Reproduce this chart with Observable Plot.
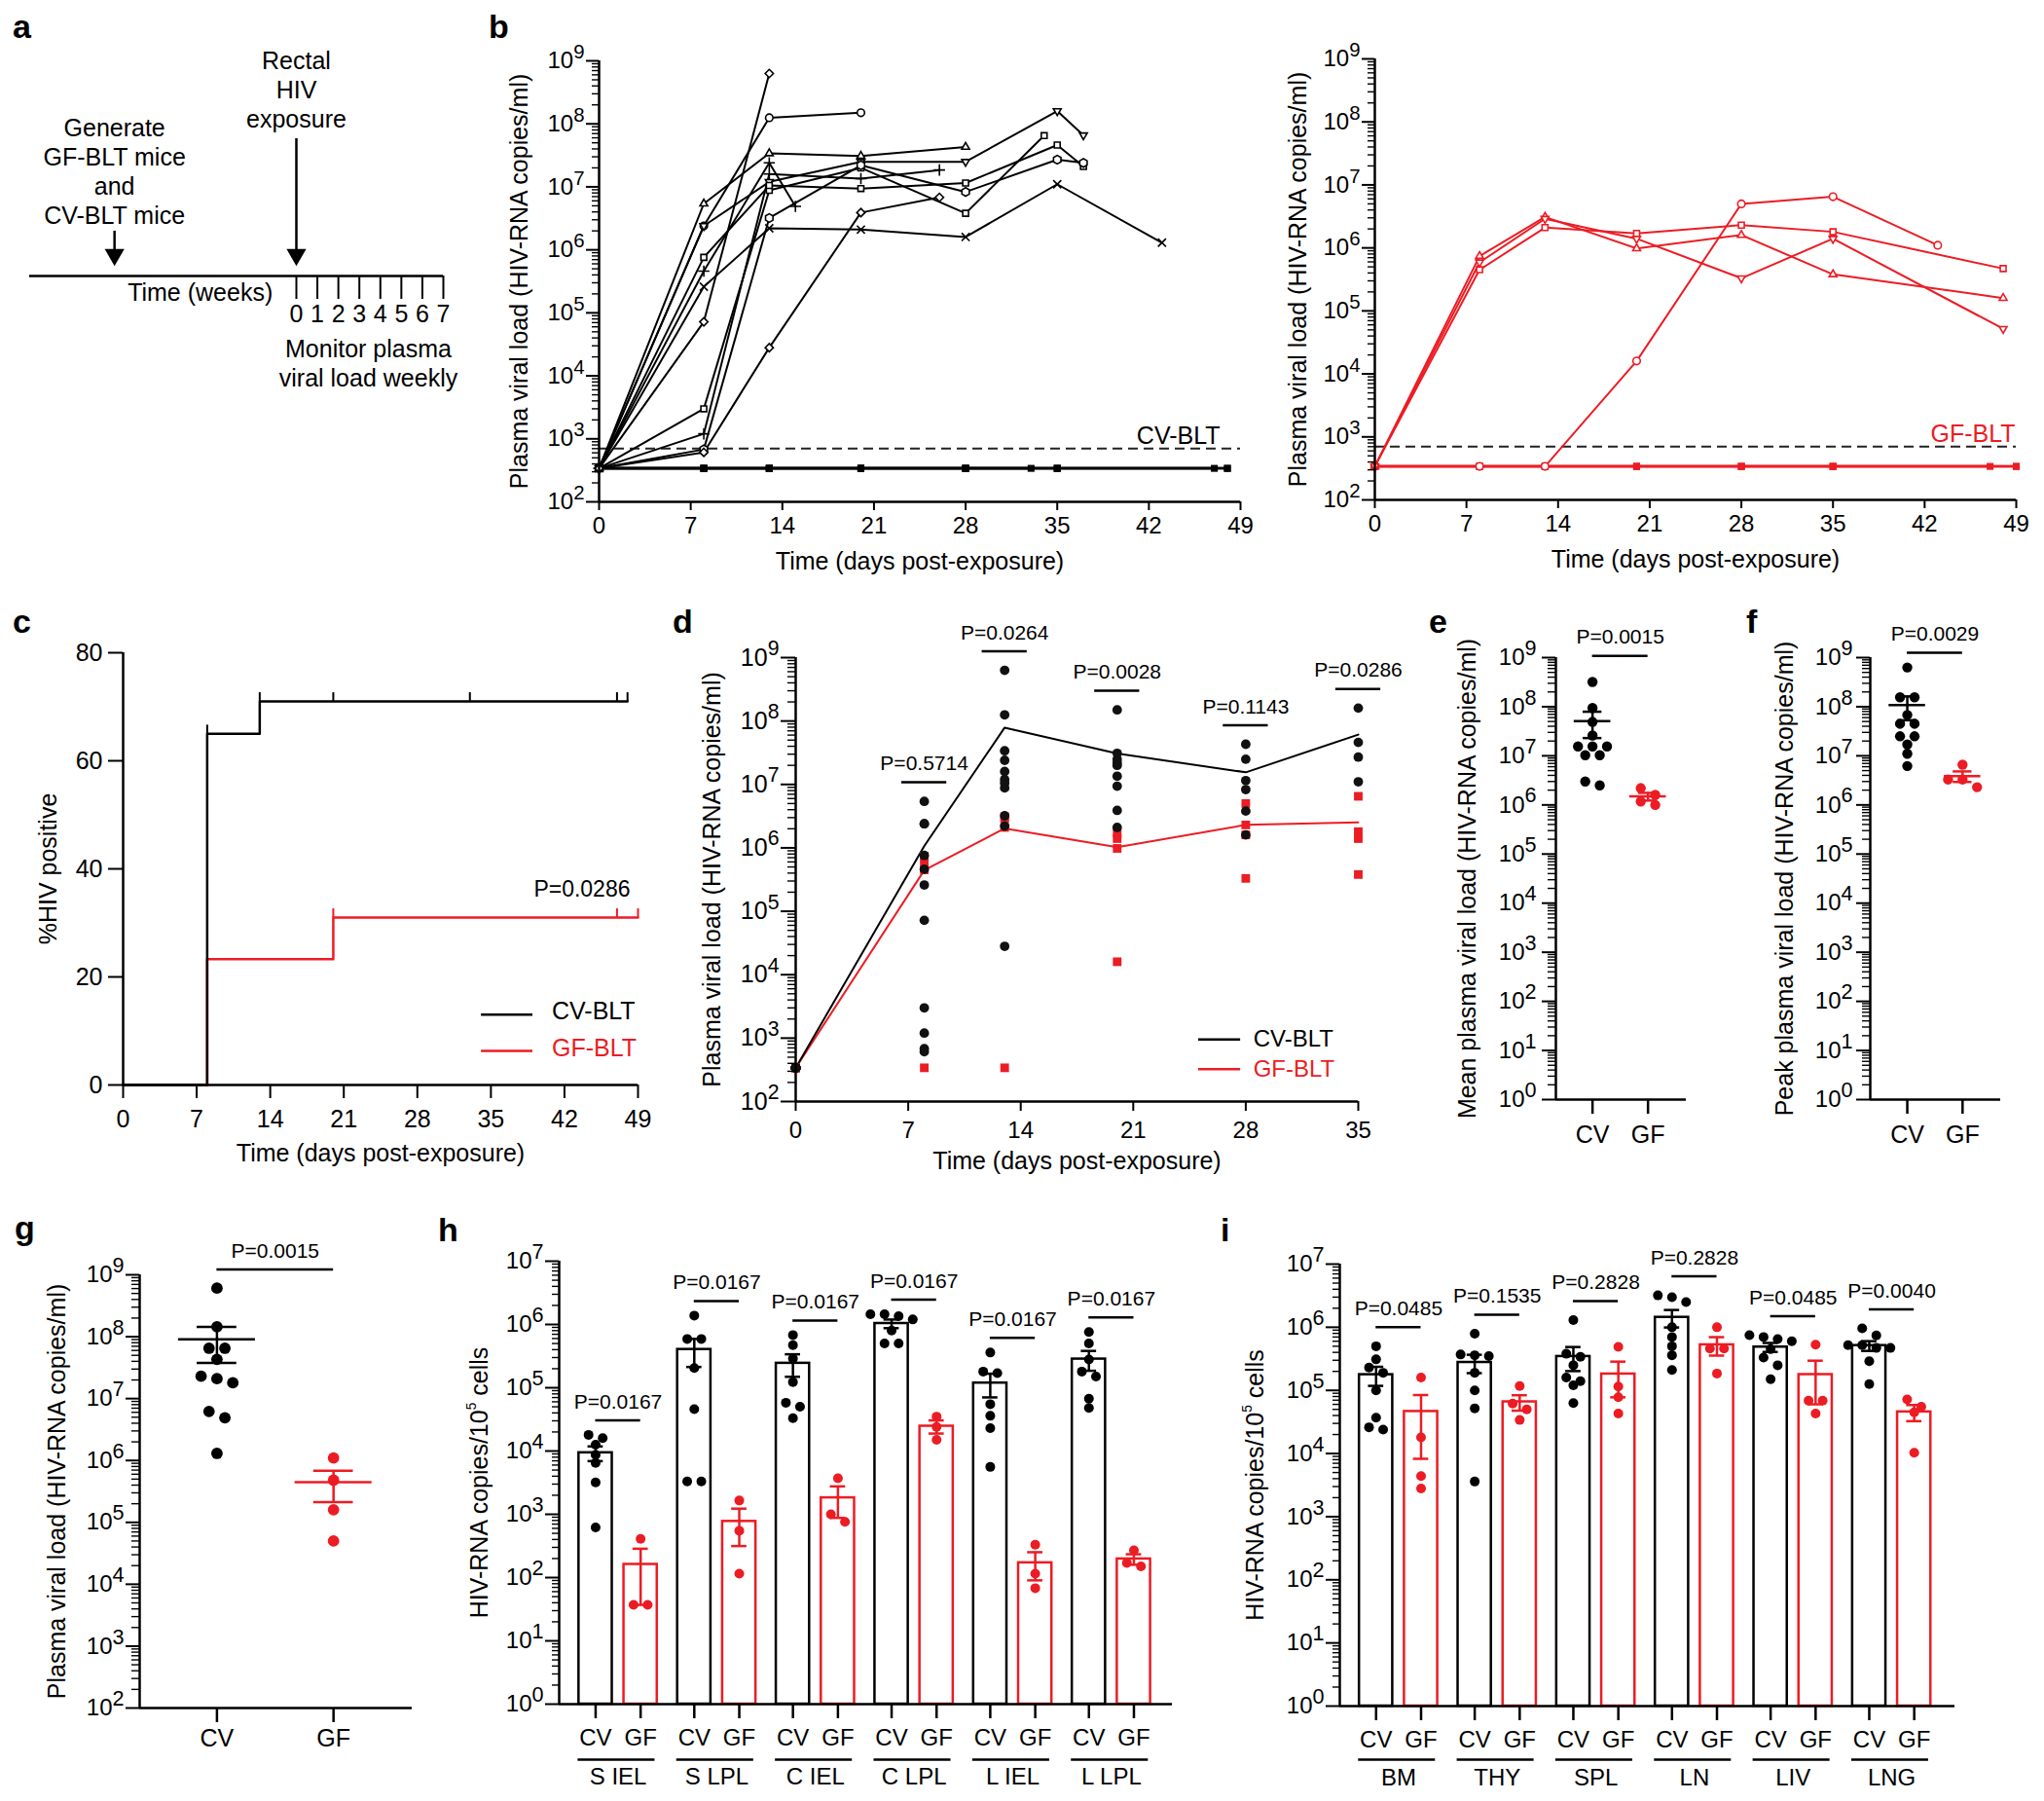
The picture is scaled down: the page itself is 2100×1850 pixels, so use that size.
<!DOCTYPE html>
<html><head><meta charset="utf-8">
<script src="https://cdn.jsdelivr.net/npm/d3@7"></script>
<script src="https://cdn.jsdelivr.net/npm/@observablehq/plot@0.6"></script>
<style>
html,body{margin:0;padding:0;background:#fff;}
#fig{position:relative;width:2100px;height:1850px;overflow:hidden;background:#fff;font-family:"Liberation Sans",Arial,Helvetica,sans-serif;}
.plt{position:absolute;}
.lt{position:absolute;font-weight:bold;font-size:34px;line-height:34px;color:#000;}
</style></head>
<body><div id="fig"></div>
<script>
// ===================== DATA =====================
// panel a (schematic)
const aWeeks = [0,1,2,3,4,5,6,7];
const aEvents = [
  {week:-8.66, label:"Generate\nGF-BLT mice\nand\nCV-BLT mice"},
  {week:0, label:"Rectal\nHIV\nexposure"}
];
const aNote = "Monitor plasma\nviral load weekly";

// panel b: individual plasma viral loads (copies/ml)
const UNDETECTABLE = 340;   // value used to plot undetectable samples
const LIMIT = 700;          // limit of detection (dashed line)
const cvInfected = [
  {id:"CV01", days:[0,8,13],             load:[340,7.2e4,6.3e8]},
  {id:"CV02", days:[0,8,13,20],          load:[340,2.4e6,1.25e8,1.5e8]},
  {id:"CV03", days:[0,8,13,20,28],       load:[340,5.4e6,3.4e7,3.1e7,4.3e7]},
  {id:"CV04", days:[0,8,13,20,28,35,37], load:[340,2.4e6,1.2e7,2.5e7,2.5e7,1.6e8,6.6e7]},
  {id:"CV05", days:[0,8,13,15],          load:[340,4.6e5,2.4e7,4.9e6]},
  {id:"CV06", days:[0,8,13,20,26],       load:[340,1.2e3,1.6e7,1.35e7,1.85e7]},
  {id:"CV07", days:[0,8,13,20,28,34],    load:[340,3.0e3,8.8e6,2.0e7,3.8e6,6.5e7]},
  {id:"CV08", days:[0,8,13,20,28,35,37], load:[340,7.6e5,1.05e7,9.4e6,1.15e7,4.6e7,2.1e7]},
  {id:"CV09", days:[0,8,13,20,28,35,37], load:[340,6.8e2,3.2e6,2.2e7,8.3e6,2.7e7,2.4e7]},
  {id:"CV10", days:[0,8,13,20,28,35,43], load:[340,2.6e5,2.2e6,2.1e6,1.6e6,1.1e7,1.3e6]},
  {id:"CV11", days:[0,8,13,20,26],       load:[340,6.1e2,2.8e4,3.9e6,6.8e6]}
];
const cvUninfected = [
  {id:"CVu1", days:[0,8,13,20,28,35,47]},
  {id:"CVu2", days:[0,8,13,20,28,35,48]},
  {id:"CVu3", days:[0,8,13,20,28,33]},
  {id:"CVu4", days:[0,8,13,20,28,35,48]}
];
const gfInfected = [
  {id:"GF1", days:[0,8,13,20,28,35,43], load:[340,340,340,1.6e4,5.0e6,6.5e6,1.1e6]},
  {id:"GF2", days:[0,8,13,20,28,35,48], load:[340,4.5e5,2.1e6,1.7e6,2.3e6,1.8e6,4.7e5]},
  {id:"GF3", days:[0,8,13,20,28,35,48], load:[340,7.4e5,3.1e6,9.8e5,1.6e6,3.8e5,1.6e5]},
  {id:"GF4", days:[0,8,13,20,28,35,48], load:[340,5.9e5,2.9e6,1.4e6,3.3e5,1.4e6,5.2e4]}
];
const gfUninfected = [
  {id:"GFu1", days:[0,8,13,20,28,35,47]},
  {id:"GFu2", days:[0,8,13,20,28,35,49]},
  {id:"GFu3", days:[0,8,13,20,28,35,49]}
];

// panel c: % HIV positive (Kaplan-Meier style)
const kmCV = [{day:0,pct:0},{day:8,pct:65},{day:13,pct:71},{day:48,pct:71}];
const kmCVcensored = [8,13,20,33,47,48];
const kmGF = [{day:0,pct:0},{day:8,pct:23.3},{day:20,pct:31},{day:49,pct:31}];
const kmGFcensored = [20,47,49];
const cP = "P=0.0286";

// panel d
const dDays = [0,8,13,20,28,35];
const dP = ["","P=0.5714","P=0.0264","P=0.0028","P=0.1143","P=0.0286"];

// panel e: mean plasma viral load
const eCV = [3.2e8,9.4e7,4.9e7,2.6e7,1.55e7,1.55e7,1.55e7,1.03e7,1.03e7,3.0e6,2.5e6];
const eGF = [2.2e6,1.6e6,1.18e6,1.0e6];
const eP = "P=0.0015";
// panel f: peak plasma viral load
const fCV = [6.3e8,1.56e8,1.56e8,6.8e7,4.5e7,4.5e7,2.5e7,2.5e7,1.7e7,1.1e7,6.2e6];
const fGF = [6.6e6,3.3e6,3.3e6,2.3e6];
const fP = "P=0.0029";
// panel g
const gCV = [6.1e8,1.45e8,6.5e7,6.5e7,4.3e7,2.3e7,2.1e7,1.8e7,6.2e6,4.9e6,1.3e6];
const gGF = [1.1e6,4.8e5,1.6e5,5.0e4];
const gP = "P=0.0015";

// panel h: gut tissues (HIV-RNA copies / 10^5 cells)
const hTissues = ["S IEL","S LPL","C IEL","C LPL","L IEL","L LPL"];
const hCV = [
  [1.8e4,1.6e4,1.26e4,8.7e3,6.5e3,3.2e3,6.2e2],
  [1.38e6,5.9e5,5.9e5,2.05e5,4.6e4,3.3e3,3.3e3],
  [6.8e5,4.7e5,2.9e5,1.23e5,5.8e4,5.0e4,3.3e4],
  [1.45e6,1.45e6,1.35e6,1.2e6,8.0e5,5.0e5,5.0e5],
  [3.6e5,1.8e5,1.7e5,5.5e4,3.6e4,2.3e4,5.6e3],
  [7.6e5,5.0e5,2.8e5,1.8e5,1.5e5,6.7e4,4.8e4]
];
const hGF = [
  [4.1e2,37,37],
  [1.65e3,5.5e2,1.15e2],
  [3.7e3,1.0e3,7.6e2],
  [3.5e4,2.4e4,1.5e4],
  [3.3e2,1.15e2,68],
  [2.7e2,1.7e2,1.5e2]
];
const hP = ["P=0.0167","P=0.0167","P=0.0167","P=0.0167","P=0.0167","P=0.0167"];

// panel i: other tissues
const iTissues = ["BM","THY","SPL","LN","LIV","LNG"];
const iCV = [
  [5.0e5,3.1e5,2.3e5,1.9e5,1.0e5,3.7e4,2.6e4,2.4e4],
  [7.9e5,3.7e5,3.6e5,3.5e5,1.9e5,1.0e5,5.2e4,3.6e3],
  [1.3e6,3.8e5,3.4e5,2.5e5,1.6e5,1.4e5,1.2e5,6.3e4],
  [3.2e6,3.0e6,2.5e6,1.0e6,7.0e5,5.0e5,3.6e5,2.1e5],
  [7.5e5,7.0e5,6.5e5,6.0e5,4.5e5,3.3e5,2.5e5,1.5e5],
  [9.6e5,7.4e5,5.2e5,5.2e5,4.7e5,4.7e5,2.9e5,1.26e5]
];
const iGF = [
  [1.6e5,1.8e4,4.4e3,2.8e3],
  [1.17e5,6.2e4,5.0e4,3.4e4],
  [4.9e5,1.15e5,7.8e4,4.3e4],
  [1.0e6,4.6e5,4.6e5,1.85e5],
  [5.3e5,6.9e4,6.9e4,4.3e4],
  [7.2e4,5.5e4,4.5e4,1.03e4]
];
const iP = ["P=0.0485","P=0.1535","P=0.2828","P=0.2828","P=0.0485","P=0.0040"];

const VL_TITLE = "Plasma viral load (HIV-RNA copies/ml)";
const T_TITLE = "Time (days post-exposure)";
const TISSUE_TITLE = "HIV-RNA copies/10^5 cells";

// ===================== HELPERS =====================
const FONT = '"Liberation Sans", Arial, Helvetica, sans-serif';
const RED = "#ec1c24";
const NS = "http://www.w3.org/2000/svg";
const fig = document.getElementById("fig");

// turn "a^b" into a raised superscript (sizes in em, relative to the label's own font size);
// short tick labels and long titles use different sizes
function supers(svg, tickScale, titleScale = 0.55) {
  for (const t of svg.querySelectorAll("text")) {
    const holders = t.querySelector("tspan") ? [...t.querySelectorAll("tspan")] : [t];
    for (const h of holders) {
      const s = h.textContent;
      if (!s.includes("^")) continue;
      const isTitle = s.length > 8;
      const scale = isTitle ? titleScale : tickScale;
      const rise = isTitle ? 0.45 : 0.42;   // in parent em
      const parts = s.split(/\^(\w)/);
      h.textContent = "";
      parts.forEach((p, i) => {
        if (!p) return;
        const ts = document.createElementNS(NS, "tspan");
        ts.textContent = p;
        if (i % 2) {
          ts.setAttribute("font-size", `${scale}em`);
          ts.setAttribute("dy", `${-(rise / scale).toFixed(3)}em`);
        } else if (i > 0) ts.setAttribute("dy", `${rise}em`);
        h.appendChild(ts);
      });
    }
  }
}

function mount(frame, margins, opts, supScale = 0.9) {
  const [L, T, R, B] = frame, [mT, mR, mB, mL] = margins;
  const svg = Plot.plot({
    width: mL + (R - L) + mR, height: mT + (B - T) + mB,
    marginTop: mT, marginRight: mR, marginBottom: mB, marginLeft: mL,
    style: {background: "transparent", overflow: "visible", maxWidth: "none", fontFamily: FONT, fontSize: "24px", color: "#000"},
    ...opts
  });
  const div = document.createElement("div");
  div.className = "plt";
  div.style.left = (L - mL) + "px";
  div.style.top = (T - mT) + "px";
  div.appendChild(svg);
  fig.appendChild(div);
  supers(svg, supScale);
  return svg;
}

function letter(ch, left, baseline) {
  const d = document.createElement("div");
  d.className = "lt"; d.textContent = ch;
  d.style.left = left + "px"; d.style.top = (baseline - 28) + "px";
  fig.appendChild(d);
}

// axis titles (rotated y title centred on the frame, x title centred under it)
const yTitle = (text, dx, fontSize = 25) =>
  Plot.text([text], {frameAnchor: "left", rotate: -90, dx, textAnchor: "middle", lineAnchor: "middle", fontSize});
const xTitle = (text, dy, fontSize = 25) =>
  Plot.text([text], {frameAnchor: "bottom", dy, textAnchor: "middle", lineAnchor: "middle", fontSize});

function logAxisY(lo, hi, {fontSize = 24, tickSize = 13, minor = 7, pad = 2, sw = 2} = {}) {
  const majors = d3.range(lo, hi + 1).map(e => 10 ** e);
  const minors = d3.range(lo, hi).flatMap(e => d3.range(2, 10).map(k => k * 10 ** e));
  return [
    Plot.axisY(minors, {tickSize: minor, tickFormat: () => "", label: null, strokeWidth: 1.4}),
    Plot.axisY(majors, {tickSize, tickPadding: pad, fontSize, label: null, strokeWidth: sw,
      tickFormat: d => `10^${Math.round(Math.log10(d))}`})
  ];
}

// simple row-based beeswarm: returns horizontal offsets (in x units)
function swarm(vals, pxPerDecade, r, unitPx, gap = 4.5) {
  const idx = vals.map((v, i) => i).sort((a, b) => vals[b] - vals[a]);
  const off = new Array(vals.length).fill(0);
  let row = [], y0 = 0;
  const flush = () => {
    const n = row.length;
    row.forEach((j, k) => off[j] = (k - (n - 1) / 2) * (2 * r + gap) / unitPx);
    row = [];
  };
  for (const i of idx) {
    const y = Math.log10(vals[i]) * pxPerDecade;
    if (row.length && Math.abs(y0 - y) > 1.6 * r) flush();
    if (!row.length) y0 = y;
    row.push(i);
  }
  flush();
  return off;
}

const meanSem = vals => {
  const m = d3.mean(vals), s = d3.deviation(vals) / Math.sqrt(vals.length);
  return {mean: m, lo: Math.max(m - s, m * 0.02), hi: m + s};
};

// ===================== PANEL a =====================
mount([30, 0, 455, 420], [0, 25, 0, 30], {
  x: {domain: [-12.7, 7], axis: null},
  y: {domain: [420, 0], axis: null},
  marks: [
    Plot.ruleY([283], {x1: () => -12.7, x2: () => 7, strokeWidth: 2.5}),
    Plot.ruleX(aWeeks, {x: d => d, y1: () => 283, y2: () => 307, strokeWidth: 2}),
    Plot.text(aWeeks, {x: d => d, y: () => 322, text: d => String(d), fontSize: 25}),
    Plot.text(["Time (weeks)"], {x: () => -4.58, y: () => 300, fontSize: 25}),
    Plot.text([aNote], {x: () => 3.43, y: () => 372, fontSize: 25, lineHeight: 1.2}),
    Plot.ruleX(aEvents, {x: "week", y1: (d, i) => i ? 142 : 237, y2: () => 256, strokeWidth: 2.5}),
    Plot.dot(aEvents, {x: "week", y: () => 261, symbol: "triangle", rotate: 180, r: 7.5, fill: "black", stroke: "none"}),
    Plot.text(aEvents, {x: "week", y: (d, i) => i ? 90.5 : 175, text: "label", fontSize: 25, lineHeight: 1.2})
  ]
});

// ===================== PANEL b =====================
function bPanel(frame, infected, uninfected, syms, rots, color, label, titleDx, labelDx) {
  const inf = infected.flatMap((m, i) => m.days.map((day, j) => ({id: m.id, i, day, load: m.load[j]})));
  const un = uninfected.flatMap(m => m.days.map(day => ({id: m.id, day, load: UNDETECTABLE})));
  mount(frame, [30, 30, 90, 110], {
    x: {domain: [0, 49]},
    y: {type: "log", domain: [1e2, 1e9]},
    marks: [
      Plot.ruleY([LIMIT], {stroke: "#222", strokeWidth: 2, strokeDasharray: "10,6"}),
      Plot.line(un, {x: "day", y: "load", z: "id", stroke: color, strokeWidth: 2.5}),
      Plot.dot(un, {x: "day", y: "load", symbol: "square", r: 4, fill: color}),
      Plot.line(inf, {x: "day", y: "load", z: "id", stroke: color, strokeWidth: 2}),
      ...infected.map((m, i) => Plot.dot(inf.filter(d => d.i === i),
        {x: "day", y: "load", symbol: syms[i], rotate: rots[i], r: 3.8, fill: "white", stroke: color, strokeWidth: 1.6})),
      ...logAxisY(2, 9, {tickSize: 13, minor: 7, pad: 2, fontSize: 24}),
      Plot.axisX(d3.range(0, 50, 7), {tickSize: 9, tickPadding: 6, fontSize: 24, label: null, strokeWidth: 2}),
      Plot.ruleX([0], {strokeWidth: 2.5}),
      Plot.ruleY([1e2], {strokeWidth: 2.5}),
      Plot.text([label], {x: () => 49, y: () => LIMIT, textAnchor: "end", dy: -13, dx: labelDx, fill: color, fontSize: 25}),
      yTitle(VL_TITLE, titleDx),
      xTitle(T_TITLE, 61)
    ]
  }, 0.85);
}
bPanel([615, 62, 1274, 515], cvInfected, cvUninfected,
  ["diamond2","circle","triangle2","triangle2","plus","plus","square2","square2","hexagon","times","diamond2"],
  [0,0,0,180,0,0,0,0,0,0,0], "black", "CV-BLT", -82, -21);
bPanel([1412, 60, 2071, 513], gfInfected, gfUninfected,
  ["circle","square2","triangle2","triangle2"], [0,0,0,180], RED, "GF-BLT", -79, -1);

// ===================== PANEL c =====================
const stepAt = (km, d) => km.filter(p => p.day <= d).at(-1).pct;
mount([126, 670, 655, 1114], [20, 30, 100, 100], {
  x: {domain: [0, 49]},
  y: {domain: [0, 80]},
  marks: [
    Plot.line(kmGF, {x: "day", y: "pct", curve: "step-after", stroke: RED, strokeWidth: 2.5}),
    Plot.ruleX(kmGFcensored, {x: d => d, y1: d => stepAt(kmGF, d), y2: d => stepAt(kmGF, d) + 1.6, stroke: RED, strokeWidth: 2}),
    Plot.line(kmCV, {x: "day", y: "pct", curve: "step-after", stroke: "black", strokeWidth: 2.5}),
    Plot.ruleX(kmCVcensored, {x: d => d, y1: d => stepAt(kmCV, d), y2: d => stepAt(kmCV, d) + 1.6, stroke: "black", strokeWidth: 2}),
    Plot.axisY([0, 20, 40, 60, 80], {tickSize: 15, tickPadding: 6, fontSize: 25, label: null, strokeWidth: 2}),
    Plot.axisX(d3.range(0, 50, 7), {tickSize: 14, tickPadding: 12, fontSize: 25, label: null, strokeWidth: 2}),
    Plot.ruleX([0], {strokeWidth: 2.5}),
    Plot.ruleY([0], {strokeWidth: 2.5}),
    Plot.text([cP], {x: () => 49, y: () => stepAt(kmGF, 49), dx: -8, dy: -29, textAnchor: "end", fontSize: 23}),
    Plot.ruleY([13], {x1: () => 34.1, x2: () => 39, stroke: "black", strokeWidth: 2.5}),
    Plot.ruleY([6.3], {x1: () => 34.1, x2: () => 39, stroke: RED, strokeWidth: 2.5}),
    Plot.text(["CV-BLT"], {x: () => 40.8, y: () => 13, dy: -3, textAnchor: "start", fontSize: 25}),
    Plot.text(["GF-BLT"], {x: () => 40.8, y: () => 6.3, dy: -3, textAnchor: "start", fontSize: 25, fill: RED}),
    yTitle("%HIV positive", -77),
    xTitle(T_TITLE, 70)
  ]
});

// ===================== PANEL d =====================
{
  const pick = mice => mice.flatMap(m => m.days.map((day, j) => ({day, load: m.load[j]}))).filter(p => dDays.includes(p.day));
  const cvPts = pick(cvInfected), gfPts = pick(gfInfected);
  const meanBy = pts => dDays.map(day => ({day, mean: d3.mean(pts.filter(p => p.day === day), p => p.load)}));
  const bars = dDays.slice(1).map((day, k) => ({day, p: dP[k + 1],
    y: 2 * d3.max([...cvPts, ...gfPts].filter(p => p.day === day), p => p.load)}));
  mount([817, 675, 1395, 1131], [80, 30, 100, 110], {
    x: {domain: [0, 35]},
    y: {type: "log", domain: [1e2, 1e9]},
    marks: [
      Plot.line(meanBy(gfPts), {x: "day", y: "mean", stroke: RED, strokeWidth: 2}),
      Plot.line(meanBy(cvPts), {x: "day", y: "mean", stroke: "black", strokeWidth: 2}),
      Plot.dot(gfPts, {x: "day", y: "load", symbol: "square", r: 5, fill: RED}),
      Plot.dot(cvPts, {x: "day", y: "load", r: 4.9, fill: "#111"}),
      Plot.ruleY(bars, {y: "y", x1: d => d.day - 1.4, x2: d => d.day + 1.4, strokeWidth: 2.5}),
      Plot.text(bars, {x: "day", y: "y", text: "p", dy: -19, fontSize: 21}),
      ...logAxisY(2, 9, {tickSize: 15, minor: 8, pad: 2, fontSize: 25}),
      Plot.axisX(d3.range(0, 36, 7), {tickSize: 10, tickPadding: 10, fontSize: 24, label: null, strokeWidth: 2}),
      Plot.ruleX([0], {strokeWidth: 2.5}),
      Plot.ruleY([1e2], {strokeWidth: 2.5}),
      Plot.ruleY([955], {x1: () => 25.07, x2: () => 27.68, stroke: "black", strokeWidth: 2.5}),
      Plot.ruleY([324], {x1: () => 25.07, x2: () => 27.68, stroke: RED, strokeWidth: 2.5}),
      Plot.text(["CV-BLT"], {x: () => 28.47, y: () => 955, textAnchor: "start", fontSize: 24}),
      Plot.text(["GF-BLT"], {x: () => 28.47, y: () => 324, textAnchor: "start", fontSize: 24, fill: RED}),
      yTitle(VL_TITLE, -86),
      xTitle(T_TITLE, 61)
    ]
  }, 0.85);
}

// ===================== PANELS e, f, g =====================
function dotPanel({frame, lo, hi, xdom, cv, gf, p, pScale, title, titleDx, r, tickPad, labelPad, mL}) {
  const [L, T, R, B] = frame;
  const unitPx = (R - L) / (xdom[1] - xdom[0]);
  const ppd = (B - T) / (hi - lo);
  const groups = [{k: 0, vals: cv, color: "black"}, {k: 1, vals: gf, color: RED}];
  const pts = groups.flatMap(g => {
    const off = swarm(g.vals, ppd, r, unitPx);
    return g.vals.map((v, j) => ({x: g.k + off[j], v, k: g.k}));
  });
  const stats = groups.map(g => ({k: g.k, color: g.color, ...meanSem(g.vals)}));
  const pbar = d3.max([...cv, ...gf]) * pScale;
  mount(frame, [70, 30, 70, mL], {
    x: {domain: xdom},
    y: {type: "log", domain: [10 ** lo, 10 ** hi]},
    marks: [
      ...groups.map(g => Plot.dot(pts.filter(d => d.k === g.k), {x: "x", y: "v", r, fill: g.color})),
      ...stats.flatMap(s => [
        Plot.ruleY([s], {y: "mean", x1: d => d.k - 0.33, x2: d => d.k + 0.33, stroke: s.color, strokeWidth: 2.5}),
        Plot.ruleX([s], {x: "k", y1: "lo", y2: "hi", stroke: s.color, strokeWidth: 2.5}),
        Plot.ruleY([s], {y: "hi", x1: d => d.k - 0.17, x2: d => d.k + 0.17, stroke: s.color, strokeWidth: 2.5}),
        Plot.ruleY([s], {y: "lo", x1: d => d.k - 0.17, x2: d => d.k + 0.17, stroke: s.color, strokeWidth: 2.5})
      ]),
      Plot.ruleY([pbar], {x1: () => 0, x2: () => 1, strokeWidth: 2.5}),
      Plot.text([p], {x: () => 0.5, y: () => pbar, dy: -19, fontSize: 21}),
      ...logAxisY(lo, hi, {tickSize: 14, minor: 8, pad: tickPad, fontSize: 24}),
      Plot.axisX([0, 1], {tickFormat: d => ["CV", "GF"][d], tickSize: 15, tickPadding: labelPad, fontSize: 25, label: null, strokeWidth: 2.5}),
      Plot.ruleX([xdom[0]], {strokeWidth: 2.5}),
      Plot.ruleY([10 ** lo], {strokeWidth: 2.5}),
      yTitle(title, titleDx)
    ]
  }, 0.9);
}
dotPanel({frame: [1598, 675, 1732, 1129], lo: 0, hi: 9, xdom: [-0.66, 1.69], cv: eCV, gf: eGF, p: eP, pScale: 3.4,
  title: "Mean plasma viral load (HIV-RNA copies/ml)", titleDx: -91, r: 5.2, tickPad: 6, labelPad: 12, mL: 130});
dotPanel({frame: [1921, 675, 2055, 1129], lo: 0, hi: 9, xdom: [-0.67, 1.69], cv: fCV, gf: fGF, p: fP, pScale: 2,
  title: "Peak plasma viral load (HIV-RNA copies/ml)", titleDx: -88, r: 5.2, tickPad: 4, labelPad: 12, mL: 130});
dotPanel({frame: [143, 1309, 423, 1754], lo: 2, hi: 9, xdom: [-0.663, 1.675], cv: gCV, gf: gGF, p: gP, pScale: 2,
  title: VL_TITLE, titleDx: -85, r: 5.9, tickPad: 2, labelPad: 7, mL: 130});

// ===================== PANELS h, i =====================
function barPanel({frame, xdom, tissues, cv, gf, pvals, pScale, titleDx, nameDy, lineDy}) {
  const [L, T, R, B] = frame;
  const G = 2.193;
  const unitPx = (R - L) / (xdom[1] - xdom[0]);
  const ppd = (B - T) / 7;
  const rows = tissues.flatMap((t, g) => [
    {t, g, grp: "CV", x: g * G, vals: cv[g], color: "black"},
    {t, g, grp: "GF", x: g * G + 1, vals: gf[g], color: RED}
  ]).map(r => ({...r, ...meanSem(r.vals)}));
  const pts = rows.flatMap(r => {
    const off = swarm(r.vals, ppd, 5, unitPx);
    return r.vals.map((v, j) => ({x: r.x + off[j], v, grp: r.grp}));
  });
  const groups = tissues.map((t, g) => ({t, g, p: pvals[g], c: g * G + 0.5,
    y: pScale * d3.max([...cv[g], ...gf[g]])}));
  const tickLabel = new Map(rows.map(r => [r.x, r.grp]));
  const marks = [];
  for (const [grp, color] of [["CV", "black"], ["GF", RED]]) {
    const rr = rows.filter(r => r.grp === grp);
    marks.push(
      Plot.rectY(rr, {x1: r => r.x - 0.37, x2: r => r.x + 0.37, y1: () => 1, y2: "mean", fill: "white", fillOpacity: 0, stroke: color, strokeWidth: 2.5}),
      Plot.dot(pts.filter(d => d.grp === grp), {x: "x", y: "v", r: 5, fill: color}),
      Plot.ruleX(rr, {x: "x", y1: "lo", y2: "hi", stroke: color, strokeWidth: 2.5}),
      Plot.ruleY(rr, {y: "hi", x1: r => r.x - 0.17, x2: r => r.x + 0.17, stroke: color, strokeWidth: 2.5}),
      Plot.ruleY(rr, {y: "lo", x1: r => r.x - 0.17, x2: r => r.x + 0.17, stroke: color, strokeWidth: 2.5})
    );
  }
  mount(frame, [70, 30, 100, 120], {
    x: {domain: xdom},
    y: {type: "log", domain: [1, 1e7]},
    marks: [
      ...marks,
      Plot.ruleY(groups, {y: "y", x1: d => d.c - 0.5, x2: d => d.c + 0.5, strokeWidth: 2.5}),
      Plot.text(groups, {x: "c", y: "y", text: "p", dy: -19, fontSize: 21}),
      ...logAxisY(0, 7, {tickSize: 14, minor: 7, pad: 2, fontSize: 24}),
      Plot.axisX(rows.map(r => r.x), {tickFormat: d => tickLabel.get(d), tickSize: 15, tickPadding: 10, fontSize: 24, label: null, strokeWidth: 2.5}),
      Plot.ruleX([xdom[0]], {strokeWidth: 2.5}),
      Plot.ruleY([1], {strokeWidth: 2.5}),
      Plot.ruleY(groups, {y: () => 1, x1: d => d.c - 0.89, x2: d => d.c + 0.82, dy: lineDy, strokeWidth: 2.5}),
      Plot.text(groups, {x: "c", y: () => 1, text: "t", dy: nameDy, fontSize: 24}),
      yTitle(TISSUE_TITLE, titleDx)
    ]
  }, 0.9);
}
barPanel({frame: [574, 1295, 1204, 1750], xdom: [-0.81, 12.82], tissues: hTissues, cv: hCV, gf: hGF, pvals: hP,
  pScale: 1.7, titleDx: -82, nameDy: 75, lineDy: 57});
barPanel({frame: [1376, 1298, 2008, 1752], xdom: [-0.807, 12.87], tissues: iTissues, cv: iCV, gf: iGF, pvals: iP,
  pScale: 2, titleDx: -87, nameDy: 74, lineDy: 55});

// ===================== PANEL LETTERS =====================
letter("a", 13, 38); letter("b", 502, 38);
letter("c", 13, 649); letter("d", 691, 649); letter("e", 1468, 649); letter("f", 1794, 649);
letter("g", 15, 1272); letter("h", 450, 1274); letter("i", 1254, 1274);
</script></body></html>
